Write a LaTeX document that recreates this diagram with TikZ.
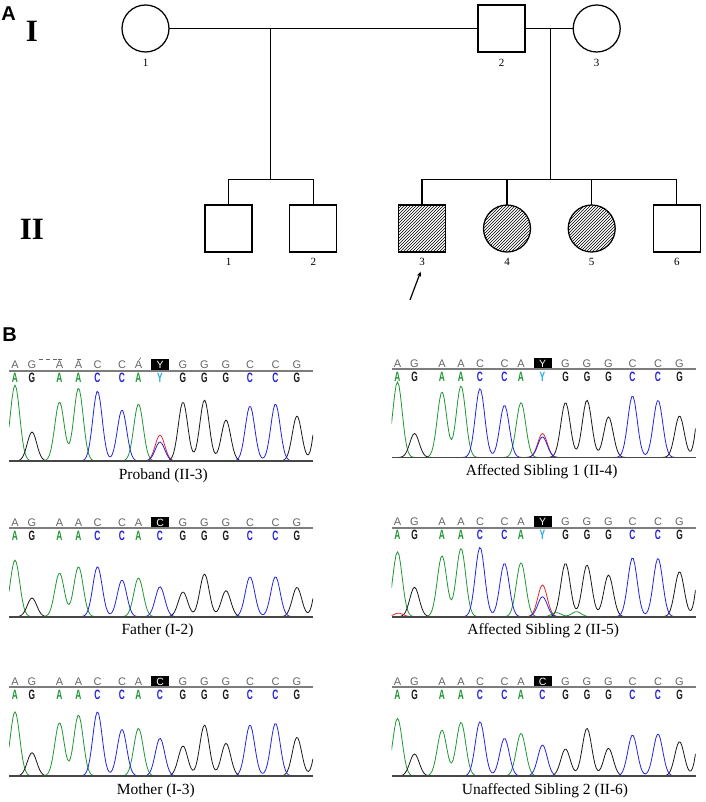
\documentclass[tikz,border=0pt]{standalone}
\usepackage{fontspec}
\setmainfont{Liberation Serif}
\setsansfont{Liberation Sans}
\usetikzlibrary{patterns,arrows.meta}

\definecolor{cg}{RGB}{30,150,50}
\definecolor{ck}{RGB}{25,25,25}
\definecolor{cb}{RGB}{35,35,225}
\definecolor{cr}{RGB}{225,40,50}
\definecolor{cy}{RGB}{30,170,230}
\definecolor{cgray}{RGB}{100,100,100}
\definecolor{lineg}{RGB}{125,125,125}
\definecolor{based}{RGB}{70,70,70}

\pgfmathdeclarefunction{gp}{3}{\pgfmathparse{#3*exp(max(-9,-0.5*((#1-#2)/4.7)*((#1-#2)/4.7)))}}

\newcommand\hsA[9]{\def\pkA{#1}\def\pkB{#2}\def\pkC{#3}\def\pkD{#4}\def\pkE{#5}\def\pkF{#6}\def\pkG{#7}\def\pkH{#8}\def\pkI{#9}}
\newcommand\hsB[7]{\def\pkJ{#1}\def\pkK{#2}\def\pkL{#3}\def\pkM{#4}\def\pkN{#5}\def\pkR{#6}\def\pkZ{#7}}

% #1 id, #2 x0, #3 top line y, #4 boxed letter, #5 colour of 8th lower letter
\newcommand\seqframe[5]{%
  \foreach \p/\l [count=\i] in {6/A,23/G,50.5/A,69.5/A,88.5/C,113/C,129.5/A,174/G,195.5/G,217/G,241/C,266.5/C,288/G}
    \node[topl] (t#1-\i) at (#2+\p,#3-1.8) {\l};
  \fill[black] (#2+142,#3-11.5) rectangle (#2+160.3,#3);
  \node[boxl] (k#1) at (#2+151.2,#3-5.6) {#4};
  \draw[topline] (#2,#3) -- (#2+304,#3);
  \foreach \p/\l/\cc [count=\i] in {6/A/cg,23/G/ck,50.5/A/cg,69.5/A/cg,88.5/C/cb,113/C/cb,129.5/A/cg,151/#4/#5,174/G/ck,195.5/G/ck,217/G/ck,241/C/cb,266.5/C/cb,288/G/ck}
    \node[botl,text=\cc] (b#1-\i) at (#2+\p,#3+7.5) {\l};
}

\newcommand\drawtraces[3]{%
  \begin{scope}[shift={(#1,#2)}]
    \clip (0,-100) rectangle (304,0.6);
    \draw[tr,cg] plot[domain=0:150,samples=101] (\x,{-(gp(\x,6,\pkA)+gp(\x,50.5,\pkC)+gp(\x,69.5,\pkD)+gp(\x,129.5,\pkG))});
    \draw[tr,ck] plot[domain=8:304,samples=198] (\x,{-(gp(\x,23,\pkB)+gp(\x,174,\pkI)+gp(\x,195.5,\pkJ)+gp(\x,217,\pkK)+gp(\x,288,\pkN)+gp(\x,311,\pkZ))});
    \draw[tr,cr] plot[domain=130:172,samples=29] (\x,{-gp(\x,151,\pkR)});
    \draw[tr,cb] plot[domain=70:290,samples=147] (\x,{-(gp(\x,88.5,\pkE)+gp(\x,113,\pkF)+gp(\x,151,\pkH)+gp(\x,241,\pkL)+gp(\x,266.5,\pkM))});
    #3
  \end{scope}
  \draw[baseln] (#1,#2) -- (#1+304,#2);
}

\begin{document}
\begin{tikzpicture}[x=1pt,y=-1pt,
  ped/.style={draw, line width=1.25pt, minimum size=47pt, inner sep=0pt, outer sep=0pt},
  male/.style={ped, rectangle},
  female/.style={ped, circle},
  aff/.style={pattern=north east lines},
  pline/.style={line width=1.25pt},
  num/.style={font=\fontsize{11}{12}\selectfont, inner sep=0pt},
  gen/.style={font=\fontsize{31}{32}\selectfont\bfseries, inner sep=0pt},
  panelid/.style={font=\sffamily\bfseries\fontsize{20}{20}\selectfont, inner sep=0pt},
  topl/.style={font=\sffamily\fontsize{11}{11}\selectfont, text=cgray, inner sep=0pt, anchor=base},
  botl/.style={font=\sffamily\bfseries\fontsize{13.5}{13.5}\selectfont, inner sep=0pt, xscale=0.62},
  boxl/.style={font=\sffamily\fontsize{10.5}{11}\selectfont, text=white, inner sep=0pt},
  tr/.style={line width=0.8pt, line join=round},
  topline/.style={draw=lineg, line width=1.7pt},
  baseln/.style={draw=based, line width=1.7pt},
  capt/.style={font=\fontsize{15.5}{17}\selectfont, inner sep=0pt},
  tickmark/.style={draw=cgray, line width=0.6pt}
]
\useasboundingbox (0,0) rectangle (705,802);

% ---------- Panel A : pedigree ----------
\node[panelid] (pA) at (8.5,13.7) {A};
\node[gen] (gI) at (32,31) {I};
\node[gen] (gII) at (32,229) {II};

\node[female] (I1) at (145.5,28.5) {};
\node[male]   (I2) at (501.5,28.5) {};
\node[female] (I3) at (596.7,28.5) {};
\node[num] (nI1) at (145.5,63) {1};
\node[num] (nI2) at (501.5,63) {2};
\node[num] (nI3) at (596.7,63) {3};

\node[male] (II1) at (228.5,228.5) {};
\node[male] (II2) at (313.3,228.5) {};
\node[male,aff] (II3) at (422,228.5) {};
\node[female,aff] (II4) at (507,228.5) {};
\node[female,aff] (II5) at (591.7,228.5) {};
\node[male] (II6) at (676.8,228.5) {};
\node[num] (nII1) at (228.5,262) {1};
\node[num] (nII2) at (313.3,262) {2};
\node[num] (nII3) at (422,262) {3};
\node[num] (nII4) at (507,262) {4};
\node[num] (nII5) at (591.7,262) {5};
\node[num] (nII6) at (676.8,262) {6};

\coordinate (m1) at (270.7,28.5);
\coordinate (s1) at (270.7,179.5);
\coordinate (m2) at (550.3,28.5);
\coordinate (s2) at (550.3,179.5);
\draw[pline] (I1.east) -- (I2.west);
\draw[pline] (I2.east) -- (I3.west);
\draw[pline] (m1) -- (s1);
\draw[pline] (m2) -- (s2);
\draw[pline] (II1.north) |- (s1) -| (II2.north);
\draw[pline] (II3.north) |- (s2) -| (II6.north);
\draw[pline] (II4.north) -- (II4.north |- s2);
\draw[pline] (II5.north) -- (II5.north |- s2);

\coordinate (arrS) at (410,300);
\coordinate (arrE) at (420.7,271.5);
\draw[line width=1.2pt,-{Stealth[length=5pt,width=4pt]}] (arrS) -- (arrE);

% ---------- Panel B : chromatograms ----------
\node[panelid] (pB) at (9.5,334.5) {B};

% Proband
\seqframe{1}{9}{370.7}{Y}{cy}
\hsA{76}{29}{59}{73}{70}{51}{57}{19}{59}\hsB{61}{41}{55}{57}{45}{26}{79}
\drawtraces{9}{461}{}
\draw[tickmark] (39,359) -- (43,359);
\draw[tickmark] (46,359) -- (50,359);
\draw[tickmark] (53,359) -- (57,359);
\draw[tickmark] (57.5,359.5) -- (61.5,359.5);
\draw[tickmark] (76.5,359.5) -- (80.5,359.5);
\draw[tickmark] (139,360) -- (141,357.5);
\node[capt] (lab1) at (163.3,475.5) {Proband (II-3)};

% Affected sibling 1
\seqframe{2}{391.5}{369}{Y}{cy}
\hsA{75.6}{24}{65.6}{71.6}{69}{52.3}{55}{20.6}{55}\hsB{57.3}{40.6}{61.6}{57.3}{41.6}{24}{88}
\drawtraces{391.5}{457.5}{}
\node[capt] (lab2) at (541.7,472) {Affected Sibling 1 (II-4)};

% Father
\seqframe{3}{9}{528.3}{C}{cb}
\hsA{56.7}{18.7}{43.7}{50}{50}{36.7}{38.7}{30}{24.7}\hsB{42.7}{26}{40}{40}{29.3}{0}{55}
\drawtraces{9}{616.7}{}
\node[capt] (lab3) at (157.5,630.5) {Father (I-2)};

% Affected sibling 2
\seqframe{4}{391.5}{527.7}{Y}{cy}
\hsA{65}{29.4}{61}{68.4}{69.4}{53.4}{54}{20}{53.4}\hsB{51.7}{41.7}{59}{58.4}{45}{31.7}{81}
\drawtraces{391.5}{616.7}{%
  \draw[tr,cr] plot[domain=0:18,samples=19] (\x,{-gp(\x,7,3.5)});
  \draw[tr,cg] plot[domain=152:198,samples=31] (\x,{-(gp(\x,165,4)+gp(\x,185,5))});
}
\node[capt] (lab4) at (543.3,631) {Affected Sibling 2 (II-5)};

% Mother
\seqframe{5}{9}{687.3}{C}{cb}
\hsA{64.3}{23.3}{53.3}{61}{64.3}{46.7}{47.7}{37.7}{30}\hsB{51}{32.7}{51}{52.7}{38.7}{0}{52}
\drawtraces{9}{776}{}
\node[capt] (lab5) at (155.8,790.5) {Mother (I-3)};

% Unaffected sibling 2
\seqframe{6}{391.5}{687.3}{C}{cb}
\hsA{57.7}{22}{46}{53.7}{54.3}{37.7}{42.7}{31}{27}\hsB{47.7}{27.7}{41}{42}{34.3}{0}{67}
\drawtraces{391.5}{776}{}
\node[capt] (lab6) at (545,790.5) {Unaffected Sibling 2 (II-6)};

\end{tikzpicture}
\end{document}
